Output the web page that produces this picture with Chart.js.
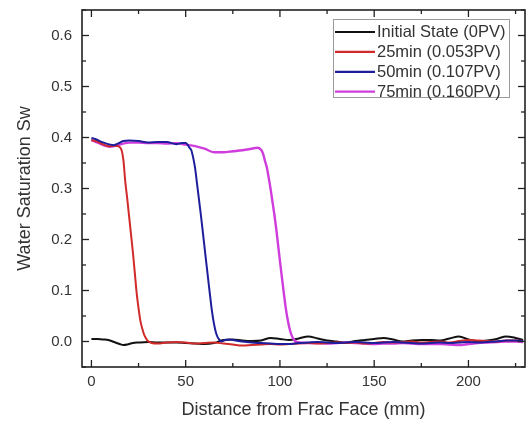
<!DOCTYPE html>
<html>
<head>
<meta charset="utf-8">
<script src="https://cdn.jsdelivr.net/npm/chart.js@4/dist/chart.umd.min.js"></script>
<style>
  html, body { margin: 0; padding: 0; background: #fff; }
  #wrap { width: 531px; height: 421px; }
</style>
</head>
<body>
<div id="wrap"><canvas id="c" width="531" height="421"></canvas></div>
<script>
// ---- data ----
const seriesLabels = ['Initial State (0PV)', '25min (0.053PV)', '50min (0.107PV)', '75min (0.160PV)'];

const xBlack = [0,3,6,9,12,15,17,19,22,25,30,35,40,45,50,55,60,65,70,75,80,85,90,95,100,105,110,115,120,125,130,135,140,145,150,155,160,165,170,175,180,185,190,195,200,205,210,215,220,225,229];
const yBlack = [0.005,0.005,0.004,0.003,-0.001,-0.005,-0.007,-0.006,-0.003,-0.002,-0.001,-0.002,-0.002,-0.002,-0.003,-0.004,-0.005,-0.003,0.003,0.004,0.002,0.001,0.002,0.007,0.005,0.003,0.006,0.010,0.006,0.002,0.000,-0.002,0.001,0.003,0.005,0.007,0.004,0.000,0.002,0.003,0.003,0.002,0.006,0.010,0.004,0.000,0.002,0.005,0.010,0.007,0.003];

const xRed = [0,3,6,9,12,14,16,17,18,19,20,21,22,23,24,25,26,27,28,29,30,32,35,40,45,50,55,60,65,70,75,80,85,90,95,100,105,110,115,120,125,130,135,140,145,150,155,160,165,170,175,180,185,190,195,200,205,210,215,220,225,229];
const yRed = [0.395,0.392,0.387,0.383,0.384,0.383,0.375,0.354,0.312,0.280,0.245,0.210,0.175,0.135,0.095,0.065,0.040,0.025,0.013,0.006,0.001,-0.003,-0.004,-0.002,-0.001,-0.002,-0.004,-0.003,-0.002,-0.004,-0.006,-0.008,-0.007,-0.006,-0.005,-0.006,-0.005,-0.004,-0.003,-0.004,-0.003,-0.002,-0.003,-0.002,-0.004,-0.003,-0.001,-0.002,-0.001,0.000,-0.002,-0.001,0.000,-0.002,0.001,0.003,0.002,0.001,0.000,0.002,0.002,0.001];

const xBlue = [0,2,5,8,10,12,14,17,20,25,30,35,40,45,48,50,51,52,53,54,55,56,57,58,59,60,61,62,63,64,65,66,67,68,69,71,73,75,80,85,90,95,100,105,110,115,120,125,130,135,140,145,150,155,160,165,170,175,180,185,190,195,200,205,210,215,220,225,229];
const yBlue = [0.399,0.397,0.392,0.388,0.386,0.385,0.388,0.393,0.394,0.393,0.390,0.391,0.391,0.387,0.389,0.389,0.386,0.380,0.375,0.360,0.340,0.310,0.280,0.250,0.218,0.185,0.152,0.120,0.088,0.058,0.035,0.018,0.008,0.003,0.000,0.003,0.004,0.003,0.000,-0.002,-0.003,-0.004,-0.005,-0.005,-0.003,-0.002,-0.001,-0.002,-0.003,-0.002,-0.001,-0.002,-0.003,-0.002,-0.001,-0.002,-0.003,-0.004,-0.003,-0.002,-0.003,-0.002,-0.001,-0.002,-0.001,0.000,0.002,0.002,0.001];

const xMagenta = [0,2,5,8,10,12,15,18,20,25,30,35,40,45,50,55,60,65,70,75,80,85,88,90,91,92,93,94,95,96,97,98,99,100,101,102,103,104,105,106,107,108,110,115,120,125,130,135,140,145,150,155,160,165,170,175,180,185,190,195,200,205,210,215,220,225,229];
const yMagenta = [0.395,0.392,0.387,0.383,0.382,0.383,0.386,0.389,0.390,0.390,0.389,0.389,0.388,0.389,0.386,0.383,0.378,0.371,0.371,0.373,0.375,0.378,0.380,0.376,0.369,0.355,0.342,0.322,0.300,0.275,0.250,0.222,0.190,0.158,0.127,0.097,0.068,0.045,0.027,0.014,0.006,0.001,-0.002,-0.003,-0.003,-0.004,-0.003,-0.002,-0.003,-0.004,-0.005,-0.004,-0.004,-0.003,-0.004,-0.005,-0.005,-0.005,-0.006,-0.007,-0.005,-0.003,-0.002,-0.001,0.000,0.000,-0.001];

const xMajorTicks = [0,50,100,150,200];
const xMinorTicks = [25,75,125,175,225];
const yMajorTicks = [0.0,0.1,0.2,0.3,0.4,0.5,0.6];
const yMinorTicks = [-0.05,0.05,0.15,0.25,0.35,0.45,0.55,0.65];

const colors = ['#111111', '#d12a2a', '#1e1e9c', '#cf3ddc'];

function pts(xs, ys) { return xs.map((x, i) => ({ x: x, y: ys[i] })); }

const FONT = "'Liberation Sans', Arial, sans-serif";
const TXT = '#333333';

const framePlugin = {
  id: 'frame',
  afterDraw(chart) {
    const ctx = chart.ctx;
    const { left, right, top, bottom } = chart.chartArea;
    const xs = chart.scales.x, ys = chart.scales.y;
    ctx.save();
    ctx.strokeStyle = '#222';
    ctx.lineWidth = 1.6;
    ctx.strokeRect(left, top, right - left, bottom - top);
    ctx.lineWidth = 1.3;
    const seg = (a, b, c, d) => { ctx.beginPath(); ctx.moveTo(a, b); ctx.lineTo(c, d); ctx.stroke(); };
    xMajorTicks.forEach(v => { const p = xs.getPixelForValue(v); seg(p, bottom, p, bottom - 7); seg(p, top, p, top + 7); });
    xMinorTicks.forEach(v => { const p = xs.getPixelForValue(v); seg(p, bottom, p, bottom - 4); seg(p, top, p, top + 4); });
    yMajorTicks.forEach(v => { const p = ys.getPixelForValue(v); seg(left, p, left + 7, p); seg(right, p, right - 7, p); });
    yMinorTicks.forEach(v => { const p = ys.getPixelForValue(v); seg(left, p, left + 4, p); seg(right, p, right - 4, p); });

    // legend
    const bx = 333, by = 19, bw = 176, bh = 78;
    ctx.fillStyle = '#fff';
    ctx.fillRect(bx, by, bw, bh);
    ctx.strokeStyle = '#9a9a9a';
    ctx.lineWidth = 1;
    ctx.strokeRect(bx + 0.5, by + 0.5, bw, bh);
    ctx.font = '16.5px ' + FONT;
    ctx.textBaseline = 'middle';
    ctx.textAlign = 'left';
    chart.data.datasets.forEach((ds, i) => {
      const yy = 32 + i * 19.9;
      ctx.strokeStyle = ds.borderColor;
      ctx.lineWidth = 2.2;
      seg(335, yy, 375, yy);
      ctx.fillStyle = TXT;
      ctx.fillText(ds.label, 377, yy + 0.5);
    });
    ctx.restore();
  }
};

new Chart(document.getElementById('c'), {
  type: 'line',
  data: {
    datasets: [
      { label: seriesLabels[0], data: pts(xBlack, yBlack), borderColor: colors[0], borderWidth: 2, order: 4 },
      { label: seriesLabels[1], data: pts(xRed, yRed), borderColor: colors[1], borderWidth: 2, order: 2 },
      { label: seriesLabels[2], data: pts(xBlue, yBlue), borderColor: colors[2], borderWidth: 2, order: 1 },
      { label: seriesLabels[3], data: pts(xMagenta, yMagenta), borderColor: colors[3], borderWidth: 2.4, order: 3 }
    ]
  },
  options: {
    responsive: false,
    animation: false,
    elements: { point: { radius: 0 }, line: { cubicInterpolationMode: 'monotone', fill: false } },
    layout: { padding: { left: 0, right: 6, top: 10, bottom: 0 } },
    plugins: { legend: { display: false }, tooltip: { enabled: false } },
    scales: {
      x: {
        type: 'linear', min: -5, max: 230,
        grid: { display: false, drawTicks: false },
        border: { display: false },
        afterBuildTicks: s => { s.ticks = xMajorTicks.map(v => ({ value: v })); },
        afterFit: s => { s.height = 54; s.paddingLeft = 0; s.paddingRight = 0; },
        ticks: { autoSkip: false, maxRotation: 0, padding: 6, color: TXT, font: { family: FONT, size: 15 },
                 callback: v => String(v) },
        title: { display: true, text: 'Distance from Frac Face (mm)', color: TXT, font: { family: FONT, size: 18 }, padding: { top: 0, bottom: 0 } }
      },
      y: {
        type: 'linear', min: -0.05, max: 0.65,
        grid: { display: false, drawTicks: false },
        border: { display: false },
        afterBuildTicks: s => { s.ticks = yMajorTicks.map(v => ({ value: v })); },
        afterFit: s => { s.width = 82; s.paddingTop = 0; s.paddingBottom = 0; },
        ticks: { autoSkip: false, padding: 10, color: TXT, font: { family: FONT, size: 15 },
                 callback: v => Number(v).toFixed(1) },
        title: { display: true, text: 'Water Saturation Sw', color: TXT, font: { family: FONT, size: 18 }, padding: { top: 14, bottom: 0 } }
      }
    }
  },
  plugins: [framePlugin]
});
</script>
</body>
</html>
